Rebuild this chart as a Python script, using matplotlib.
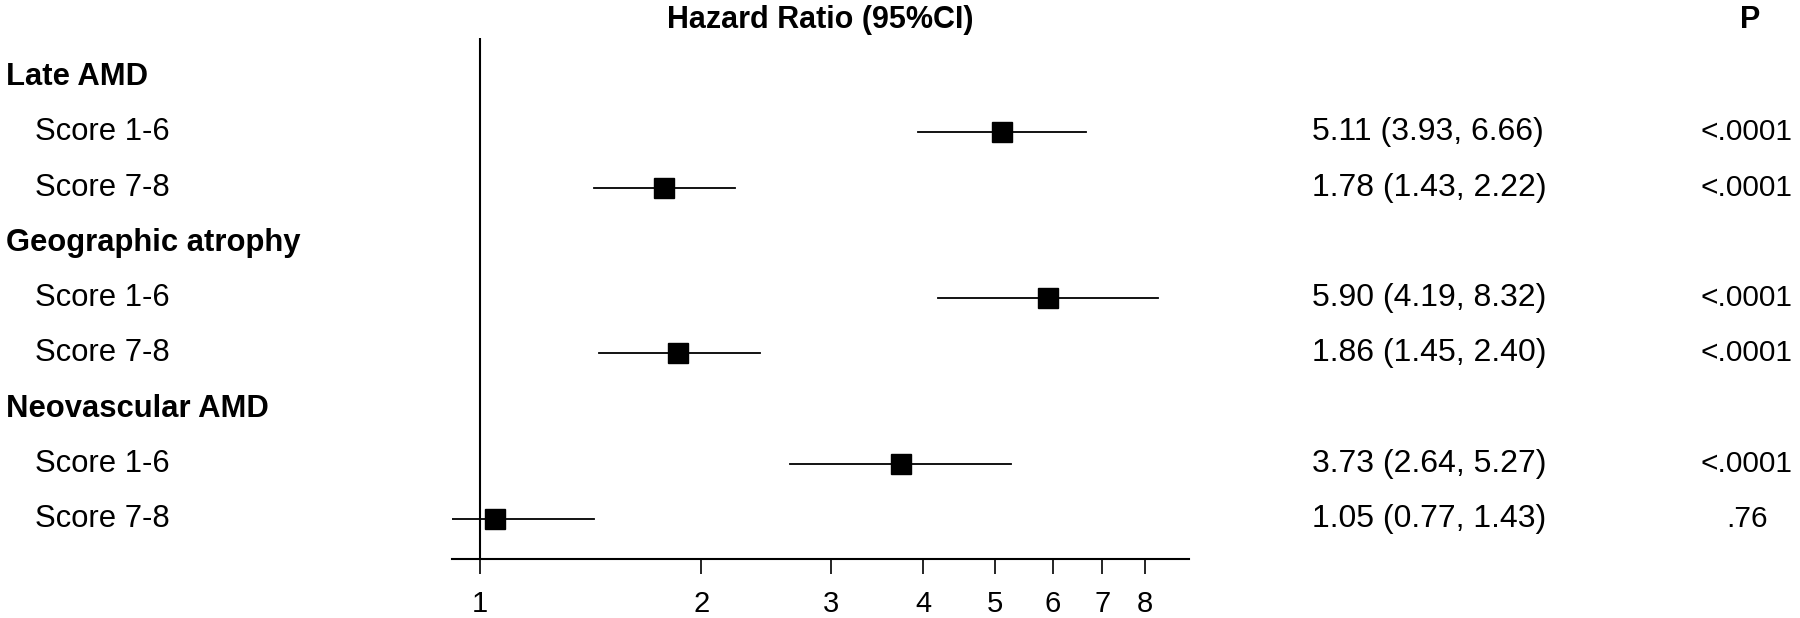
import numpy as np
import matplotlib
matplotlib.use("Agg")
import matplotlib.pyplot as plt
from matplotlib.ticker import FixedLocator, NullLocator, FixedFormatter
from matplotlib.transforms import blended_transform_factory

plt.rcParams['font.family'] = ['Liberation Sans', 'DejaVu Sans']

# rows of the forest plot (headings have no estimate)
labels = ["Late AMD", "Score 1-6", "Score 7-8",
          "Geographic atrophy", "Score 1-6", "Score 7-8",
          "Neovascular AMD", "Score 1-6", "Score 7-8"]
is_heading = [True, False, False, True, False, False, True, False, False]
hr = [None, 5.11, 1.78, None, 5.90, 1.86, None, 3.73, 1.05]
lo = [None, 3.93, 1.43, None, 4.19, 1.45, None, 2.64, 0.77]
hi = [None, 6.66, 2.22, None, 8.32, 2.40, None, 5.27, 1.43]
pvals = [None, "<.0001", "<.0001", None, "<.0001", "<.0001", None, "<.0001", ".76"]
xticks = [1, 2, 3, 4, 5, 6, 7, 8]

W, H = 1800, 618
fig = plt.figure(figsize=(W / 100, H / 100), dpi=100)
# axes placed in pixel terms of the reference
ax_l, ax_r, ax_t, ax_b = 452, 1189, 38, 559
ax = fig.add_axes([ax_l / W, 1 - ax_b / H, (ax_r - ax_l) / W, (ax_b - ax_t) / H])

ax.set_xscale('log')
ax.set_xlim(0.917, 9.18)
ax.set_ylim(8.72, -0.706)

for sp in ['top', 'right', 'left']:
    ax.spines[sp].set_visible(False)
ax.spines['bottom'].set_linewidth(1.5)
ax.yaxis.set_major_locator(NullLocator())
ax.xaxis.set_major_locator(FixedLocator(xticks))
ax.xaxis.set_major_formatter(FixedFormatter([str(t) for t in xticks]))
ax.xaxis.set_minor_locator(NullLocator())
ax.tick_params(axis='x', direction='out', length=11, width=1.2, pad=11, labelsize=21)

ax.axvline(1, color='black', lw=1.5)

trans = blended_transform_factory(fig.transFigure, ax.transData)
for i, lab in enumerate(labels):
    if is_heading[i]:
        fig.text(6 / W, i, lab, transform=trans, fontsize=22.3, fontweight='bold',
                 ha='left', va='center')
        continue
    fig.text(35 / W, i, lab, transform=trans, fontsize=22.3, ha='left', va='center')
    # CI line is clipped at the axis edge, as in the original
    ax.plot([lo[i], hi[i]], [i, i], color='black', lw=1.3)
    ax.plot(hr[i], i, marker='s', color='black', markersize=14.5, clip_on=False)
    fig.text(1312 / W, i, f"{hr[i]:.2f} ({lo[i]:.2f}, {hi[i]:.2f})", transform=trans,
             fontsize=23, ha='left', va='center')
    fig.text(1747 / W, i, pvals[i], transform=trans, fontsize=21.5, ha='center', va='center')

fig.text(820 / W, 1 - 20 / H, "Hazard Ratio (95%CI)", fontsize=22, fontweight='bold',
         ha='center', va='center')
fig.text(1750 / W, 1 - 20 / H, "P", fontsize=22, fontweight='bold', ha='center', va='center')

fig.savefig("out.png", dpi=100, facecolor='white')
